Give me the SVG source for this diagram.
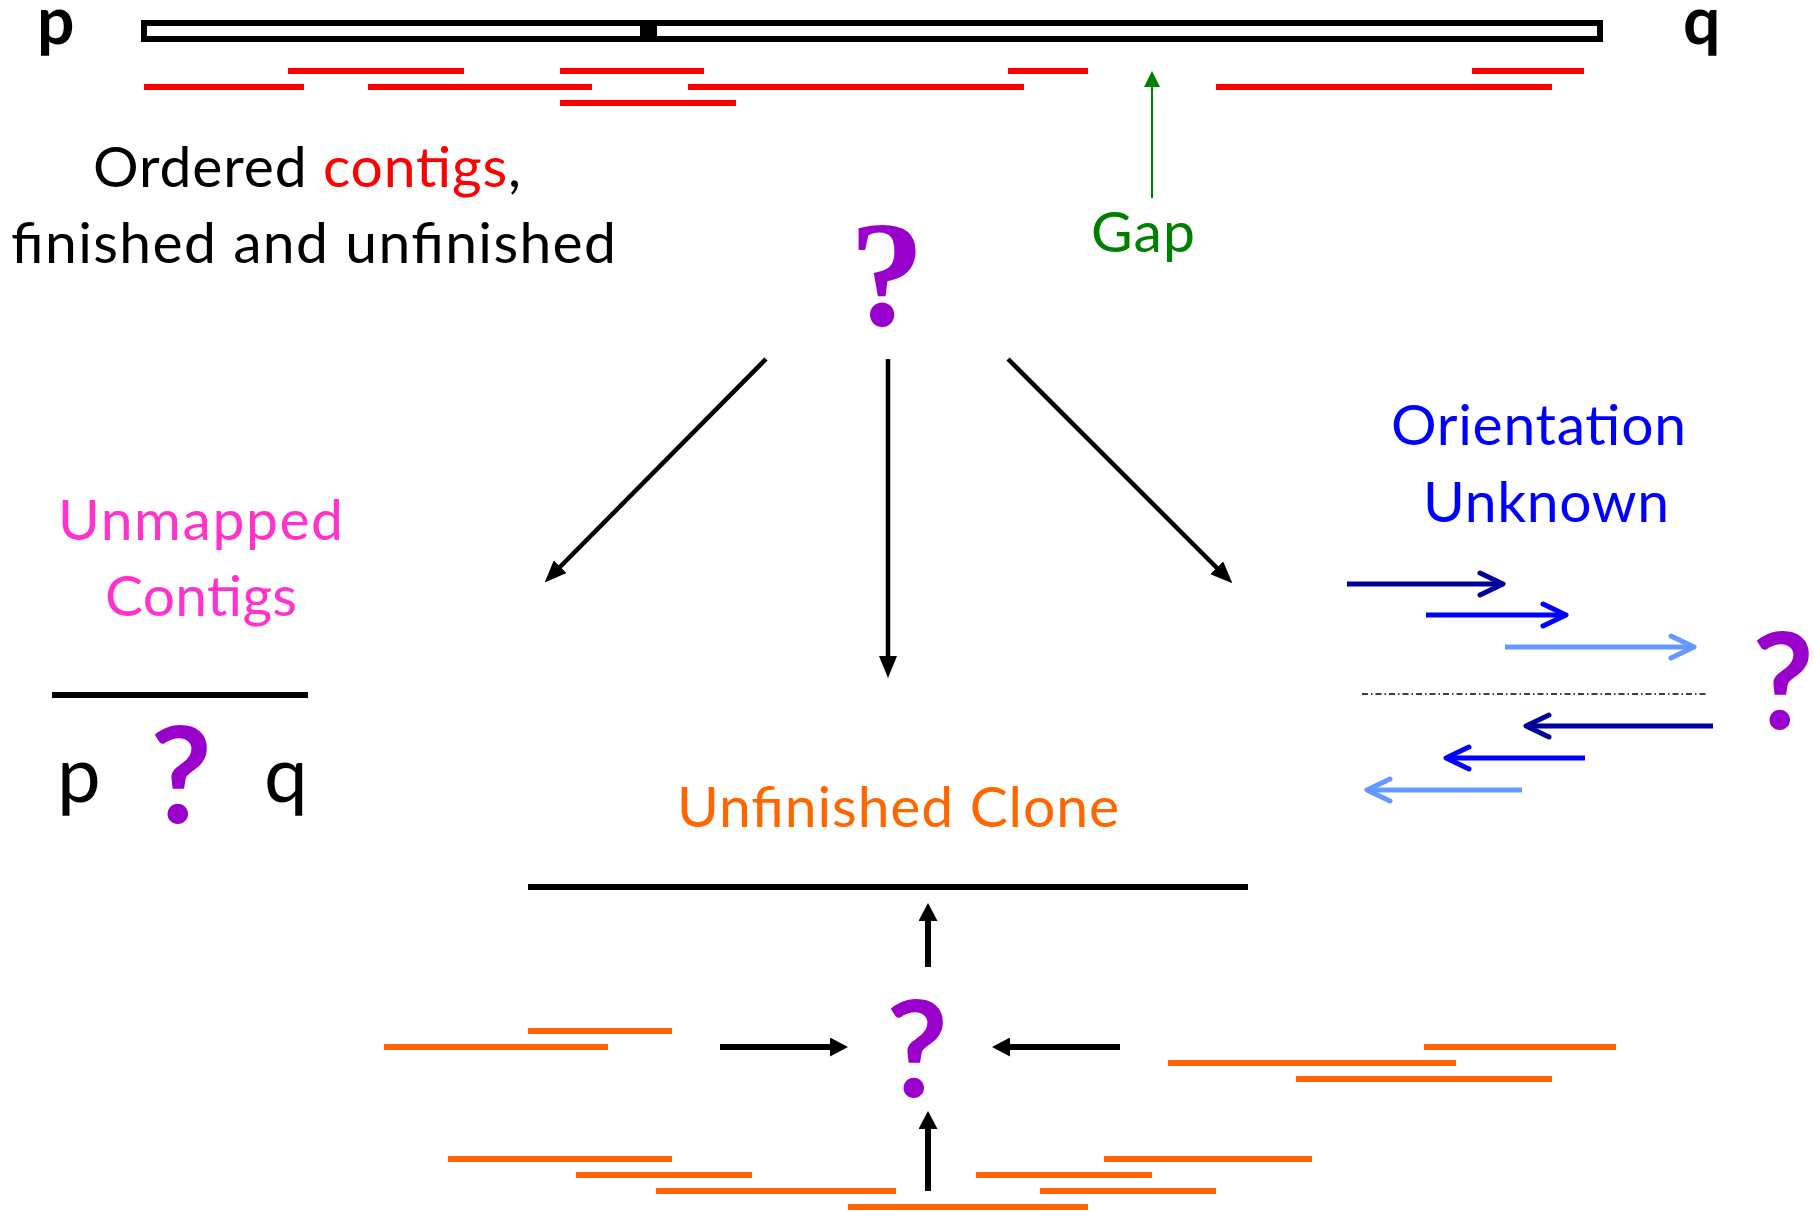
<svg xmlns="http://www.w3.org/2000/svg" width="1815" height="1212" viewBox="0 0 1815 1212">
<style>
  text { font-family: Lato, "Liberation Sans", sans-serif; }
  .lbl { font-size: 57px; }
  .red { stroke: #FF0000; stroke-width: 6; }
  .org { stroke: #FF6600; stroke-width: 6; }
  .blk { stroke: #000000; stroke-width: 6; }
  .conn { stroke: #000000; stroke-width: 4.5; fill: none; }
  .conn2 { stroke: #000000; stroke-width: 6; fill: none; }
  .q-serif { font-family: "Liberation Serif", "DejaVu Serif", serif; font-weight: bold; font-size: 150px; fill: #9900CC; }
  .q-sans { font-weight: bold; font-size: 135px; fill: #9900CC; }
  .chev { fill: none; stroke-width: 5; stroke-linecap: round; stroke-linejoin: round; }
  .shaft { stroke-width: 5; }
  .navy { stroke: #000099; }
  .blue { stroke: #0000FF; }
  .lblue { stroke: #6699FF; }
</style>
<defs>
  <marker id="ah" markerUnits="userSpaceOnUse" markerWidth="22" markerHeight="18" refX="13" refY="9" orient="auto">
    <path d="M0,0 L22,9 L0,18 z" fill="#000"/>
  </marker>
  <marker id="ah2" markerUnits="userSpaceOnUse" markerWidth="18" markerHeight="19" refX="9" refY="9.5" orient="auto">
    <path d="M0,0 L18,9.5 L0,19 z" fill="#000"/>
  </marker>
  <marker id="ahg" markerUnits="userSpaceOnUse" markerWidth="16" markerHeight="16" refX="10" refY="8" orient="auto">
    <path d="M0,0 L16,8 L0,16 z" fill="#008000"/>
  </marker>
</defs>

<g id="chromosome">
  <rect x="144" y="23" width="1456" height="16" fill="#FFFFFF" stroke="#000" stroke-width="6"/>
  <rect x="640" y="20" width="17" height="22" fill="#000"/>
  <text x="37" y="44" font-family="'Liberation Sans', Arial, sans-serif" font-weight="bold" font-size="66">p</text>
  <text x="1683" y="44" font-family="'Liberation Sans', Arial, sans-serif" font-weight="bold" font-size="66">q</text>
</g>

<g id="ordered-contigs">
  <line class="red" x1="288" y1="71" x2="464" y2="71"/>
  <line class="red" x1="560" y1="71" x2="704" y2="71"/>
  <line class="red" x1="1008" y1="71" x2="1088" y2="71"/>
  <line class="red" x1="1472" y1="71" x2="1584" y2="71"/>
  <line class="red" x1="144" y1="87" x2="304" y2="87"/>
  <line class="red" x1="368" y1="87" x2="592" y2="87"/>
  <line class="red" x1="688" y1="87" x2="1024" y2="87"/>
  <line class="red" x1="1216" y1="87" x2="1552" y2="87"/>
  <line class="red" x1="560" y1="103" x2="736" y2="103"/>
</g>

<g id="ordered-label">
  <text class="lbl" x="93" y="187" textLength="428">Ordered <tspan fill="#FF0000">contigs</tspan>,</text>
  <text class="lbl" x="11" y="263" textLength="605">finished and unfinished</text>
</g>

<g id="gap">
  <text class="lbl" x="1091" y="252" fill="#008000" textLength="104">Gap</text>
</g>

<g id="question-top">
  <text class="q-serif" x="887" y="325" text-anchor="middle">?</text>
</g>

<g id="unmapped">
  <text class="lbl" x="58" y="540" fill="#FF33CC" textLength="285">Unmapped</text>
  <text class="lbl" x="105" y="616" fill="#FF33CC" textLength="192">Contigs</text>
  <line class="blk" x1="52" y1="695" x2="308" y2="695"/>
  <text x="57" y="802" font-size="78">p</text>
  <text class="q-sans" x="181" y="823" text-anchor="middle">?</text>
  <text x="264" y="802" font-size="78">q</text>
</g>

<g id="orientation">
  <text class="lbl" x="1391" y="445" fill="#0000FF" textLength="295">Orientation</text>
  <text class="lbl" x="1423" y="522" fill="#0000FF" textLength="246">Unknown</text>
  <line class="shaft navy" x1="1347" y1="584" x2="1502" y2="584"/>
  <path class="chev navy" d="M1480,573 L1503,584 L1480,595"/>
  <line class="shaft blue" x1="1426" y1="615" x2="1565" y2="615"/>
  <path class="chev blue" d="M1543,604 L1566,615 L1543,626"/>
  <line class="shaft lblue" x1="1505" y1="647" x2="1693" y2="647"/>
  <path class="chev lblue" d="M1671,636 L1694,647 L1671,658"/>
  <line x1="1362" y1="694" x2="1708" y2="694" stroke="#000" stroke-width="1.5" stroke-dasharray="6 3 1.5 3"/>
  <line class="shaft navy" x1="1713" y1="726" x2="1527" y2="726"/>
  <path class="chev navy" d="M1549,715 L1526,726 L1549,737"/>
  <line class="shaft blue" x1="1585" y1="758" x2="1447" y2="758"/>
  <path class="chev blue" d="M1469,747 L1446,758 L1469,769"/>
  <line class="shaft lblue" x1="1522" y1="790" x2="1368" y2="790"/>
  <path class="chev lblue" d="M1390,779 L1367,790 L1390,801"/>
  <text class="q-sans" x="1783" y="729" text-anchor="middle">?</text>
</g>

<g id="unfinished-clone">
  <text class="lbl" x="677" y="827" fill="#FF6600" textLength="442">Unfinished Clone</text>
  <line class="blk" x1="528" y1="887" x2="1248" y2="887"/>
  <text class="q-sans" x="917" y="1097" text-anchor="middle">?</text>
</g>

<g id="clone-reads">
  <line class="org" x1="528" y1="1031" x2="672" y2="1031"/>
  <line class="org" x1="384" y1="1047" x2="608" y2="1047"/>
  <line class="org" x1="1424" y1="1047" x2="1616" y2="1047"/>
  <line class="org" x1="1168" y1="1063" x2="1456" y2="1063"/>
  <line class="org" x1="1296" y1="1079" x2="1552" y2="1079"/>
  <line class="org" x1="448" y1="1159" x2="672" y2="1159"/>
  <line class="org" x1="576" y1="1175" x2="752" y2="1175"/>
  <line class="org" x1="656" y1="1191" x2="896" y2="1191"/>
  <line class="org" x1="848" y1="1207" x2="1088" y2="1207"/>
  <line class="org" x1="1104" y1="1159" x2="1312" y2="1159"/>
  <line class="org" x1="976" y1="1175" x2="1152" y2="1175"/>
  <line class="org" x1="1040" y1="1191" x2="1216" y2="1191"/>
</g>

<g id="connectors">
  <line x1="1152" y1="198" x2="1152" y2="77" stroke="#008000" stroke-width="2" marker-end="url(#ahg)"/>
  <line class="conn" x1="766" y1="359" x2="551" y2="576" marker-end="url(#ah)"/>
  <line class="conn" x1="888" y1="359" x2="888" y2="669" marker-end="url(#ah)"/>
  <line class="conn" x1="1008" y1="359" x2="1226" y2="577" marker-end="url(#ah)"/>
  <line class="conn2" x1="928" y1="967" x2="928" y2="912" marker-end="url(#ah2)"/>
  <line class="conn2" x1="928" y1="1191" x2="928" y2="1120" marker-end="url(#ah2)"/>
  <line class="conn2" x1="720" y1="1047" x2="839" y2="1047" marker-end="url(#ah2)"/>
  <line class="conn2" x1="1120" y1="1047" x2="1001" y2="1047" marker-end="url(#ah2)"/>
</g>
</svg>
